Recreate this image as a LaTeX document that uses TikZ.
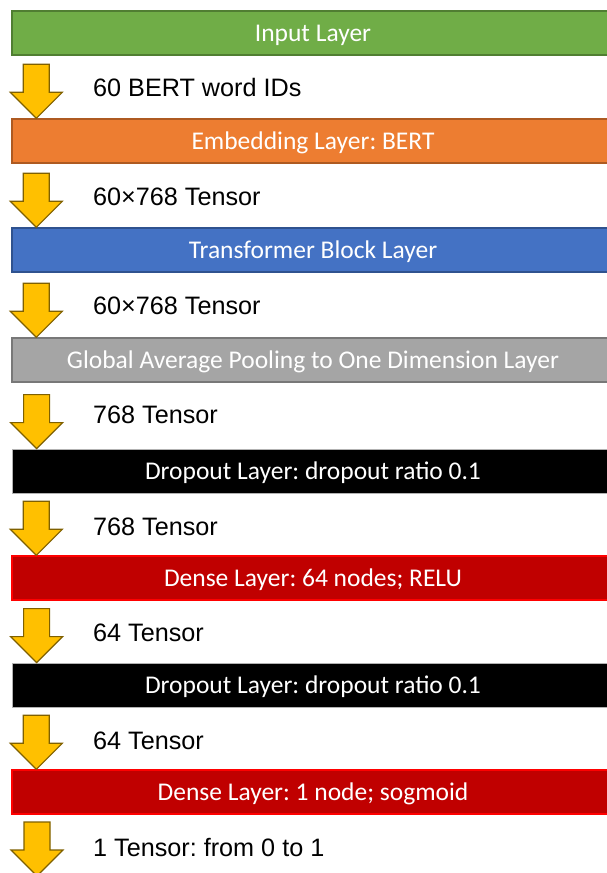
\documentclass[tikz,border=0pt]{standalone}
\usepackage{fontspec}
\usepackage{tikz}
\newfontfamily\barfont{Carlito}
\newfontfamily\labfont{Liberation Sans}
\frenchspacing

\definecolor{ingreen}{HTML}{70AD47}
\definecolor{ingreenD}{HTML}{507E32}
\definecolor{emborange}{HTML}{ED7D31}
\definecolor{emborangeD}{HTML}{AE5A21}
\definecolor{trblue}{HTML}{4472C4}
\definecolor{trblueD}{HTML}{2F528F}
\definecolor{poolgray}{HTML}{A5A5A5}
\definecolor{poolgrayD}{HTML}{787878}
\definecolor{densered}{HTML}{C00000}
\definecolor{densebord}{HTML}{FF0000}
\definecolor{arrgold}{HTML}{FFC000}
\definecolor{arrgoldD}{HTML}{7F6000}

\tikzset{
 layer/.style={minimum width=602pt,minimum height=44pt,inner sep=0pt,line width=1.4pt,
   text=white,text height=19pt,text depth=3pt,font=\barfont\fontsize{25.5}{30}\selectfont},
 shapelbl/.style={anchor=west,inner sep=0pt,font=\labfont\fontsize{25.2}{30}\selectfont},
 downarr/.pic={\draw[fill=arrgold,draw=arrgoldD,line width=1.2pt,line join=miter]
   (0,0) -- (26,-26) -- (13,-26) -- (13,-54) -- (-13,-54) -- (-13,-26) -- (-26,-26) -- cycle;}
}

\begin{document}
\begin{tikzpicture}[x=1pt,y=-1pt]
 \clip (0,0) rectangle (607,873);
 \fill[white] (0,0) rectangle (607,873);
 % layers
 \node[layer,fill=ingreen,draw=ingreenD] (inp) at (313,33) {Input Layer};
 \node[layer,fill=emborange,draw=emborangeD] (emb) at (313,141) {Embedding Layer: BERT};
 \node[layer,fill=trblue,draw=trblueD] (trf) at (313,250) {Transformer Block Layer};
 \node[layer,fill=poolgray,draw=poolgrayD] (gap) at (313,360) {Global Average Pooling to One Dimension Layer};
 \node[layer,fill=black,draw=gray!60,line width=0.8pt] (drop1) at (313,471) {Dropout Layer: dropout ratio 0.1};
 \node[layer,fill=densered,draw=densebord] (dense1) at (313,578) {Dense Layer: 64 nodes; RELU};
 \node[layer,fill=black,draw=gray!60,line width=0.8pt] (drop2) at (313,685) {Dropout Layer: dropout ratio 0.1};
 \node[layer,fill=densered,draw=densebord] (dense2) at (313,792) {Dense Layer: 1 node; sogmoid};
 \coordinate (out) at (37,876);
 % arrows, tip resting on the next layer
 \pic at ([xshift=25pt]emb.north west) {downarr};
 \pic at ([xshift=25pt]trf.north west) {downarr};
 \pic at ([xshift=25pt]gap.north west) {downarr};
 \pic at ([xshift=25pt]drop1.north west) {downarr};
 \pic at ([xshift=25pt]dense1.north west) {downarr};
 \pic at ([xshift=25pt]drop2.north west) {downarr};
 \pic at ([xshift=25pt]dense2.north west) {downarr};
 \pic at (out) {downarr};
 % tensor shapes
 \node[shapelbl] (s1) at (93,87) {60 BERT word IDs};
 \node[shapelbl] (s2) at (93,197) {60×768 Tensor};
 \node[shapelbl] (s3) at (93,306) {60×768 Tensor};
 \node[shapelbl] (s4) at (93,415) {768 Tensor};
 \node[shapelbl] (s5) at (93,527) {768 Tensor};
 \node[shapelbl] (s6) at (93,633) {64 Tensor};
 \node[shapelbl] (s7) at (93,741) {64 Tensor};
 \node[shapelbl] (s8) at (93,847) {1 Tensor: from 0 to 1};
\end{tikzpicture}
\end{document}
